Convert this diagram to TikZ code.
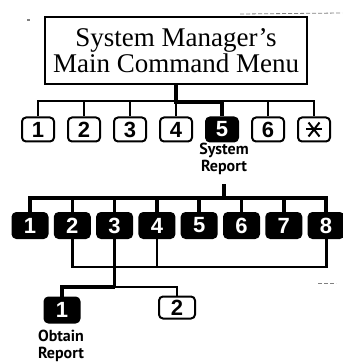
\documentclass[tikz,border=0pt]{standalone}
\usepackage{fontspec}
\setmainfont{Liberation Serif}
\newfontfamily\keyfont{Liberation Sans}
\newfontfamily\labfont{PT Sans}
\begin{document}
\begin{tikzpicture}[x=1pt,y=-1pt,
  keybox/.style={draw, line width=2pt, rounded corners=4pt, minimum width=32pt, minimum height=24pt, inner sep=0pt, font=\keyfont\bfseries\fontsize{22}{22}\selectfont},
  keyon/.style={keybox, fill=black, text=white},
  wire/.style={line width=1.5pt},
  wiremid/.style={line width=2.8pt},
  wirebold/.style={line width=3.6pt},
  lab/.style={align=center, font=\labfont\bfseries\fontsize{16}{17}\selectfont, inner sep=0pt},
  speck/.style={gray, line width=0.8pt, dash pattern=on 4pt off 2pt}
]
\useasboundingbox (0,0) rectangle (342,363);

% title
\node[draw, line width=1.3pt, minimum width=262pt, minimum height=67pt, inner sep=0pt,
      align=center, font=\fontsize{27}{22.5}\selectfont] (menu) at (176,50.5)
      {System Manager's\\Main Command Menu};

% row 1
\foreach \i/\x in {1/38,2/84,3/130,4/176,6/268}
  \node[keybox] (a\i) at (\x,129.5) {\i};
\node[keyon] (a5) at (222,129.5) {5};
\node[keybox] (a7) at (314,129.5) {};
\draw[line width=2pt] (a7.center) ++(-8,0) -- ++(16,0);
\draw[line width=2pt] (a7.center) ++(-5.5,-7) -- ++(11,14);
\draw[line width=2pt] (a7.center) ++(5.5,-7) -- ++(-11,14);

\draw[wire] (a1.north) -- ++(0,-15.5) -| (a7.north);
\foreach \i in {2,3,4,6} \draw[wire] (a\i.north) -- ++(0,-15.5);
\draw[wirebold] (menu.south) -- ++(0,18) -| (a5.north);

% System Report
\node[lab] (sr) at (224,158.5) {System\\Report};
\coordinate (s2) at (224,184);

% row 2
\foreach \i in {1,...,8}
  \node[keyon, minimum width=35pt, minimum height=25pt] (b\i) at ({30+42.3*(\i-1)},225.5) {\i};
\draw[wirebold] (b1.north) -- ++(0,-14) -| (b8.north);
\foreach \i in {2,...,7} \draw[wirebold] (b\i.north) -- ++(0,-14);
\draw[wirebold] (s2) -- ++(0,15);

% row 3
\node[keyon, minimum width=35pt, minimum height=25pt] (c1) at (62,310) {1};
\node[keybox, minimum width=36pt, minimum height=22pt] (c2) at (177,307.5) {2};
\node[lab] (ob) at (61,346) {Obtain\\Report};

\draw[wiremid] (b2.south) -- ++(0,28) -| (b8.south);
\foreach \i in {3,4} \draw[wiremid] (b\i.south) -- ++(0,28);
\path (b3.south) ++(0,48) coordinate (j3);
\draw[wiremid] (b3.south) -- (j3);
\draw[wirebold] (j3) -| (c1.north);
\draw[wire] (j3) -| (c2.north);

% scan specks
\draw[speck] (240,14) -- (342,13);
\draw[speck] (318,283) -- (336,283);
\fill[gray] (27,19) rectangle (30,21);
\end{tikzpicture}
\end{document}
